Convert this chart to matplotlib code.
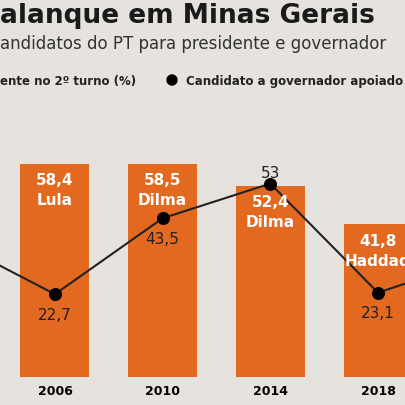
import matplotlib
matplotlib.use("Agg")
import matplotlib.pyplot as plt

years = ["2006", "2010", "2014", "2018"]
pres_vals = [58.4, 58.5, 52.4, 41.8]
pres_labels = ["58,4", "58,5", "52,4", "41,8"]
pres_names = ["Lula", "Dilma", "Dilma", "Haddad"]
gov_x = [-1, 0, 1, 2, 3, 4]
gov_vals = [38, 22.7, 43.5, 53, 23.1, 33]
gov_labels = ["22,7", "43,5", "53", "23,1"]

bg = "#e6e3de"
orange = "#e2691f"
fig = plt.figure(figsize=(4.06, 4.06), dpi=100, facecolor=bg)
ax = fig.add_axes([0, 28/406, 1, (378-120)/406])
ax.set_facecolor(bg)
ax.set_xlim(-0.51, 3.26)
ax.set_ylim(0, 70.7)
ax.axis("off")
xs = list(range(len(years)))
ax.bar(xs, pres_vals, width=0.64, color=orange, zorder=1)
ax.plot(gov_x, gov_vals, color="#222222", lw=1.5, zorder=3)
ax.scatter(gov_x[1:5], gov_vals[1:5], s=70, color="black", zorder=4)
for x, v, l, n in zip(xs, pres_vals, pres_labels, pres_names):
    ax.text(x, v - 5.5, l, ha="center", color="white", fontsize=11, fontweight="bold", zorder=5)
    ax.text(x, v - 11, n, ha="center", color="white", fontsize=11, fontweight="bold", zorder=5)
offs = [-5.5, -5.5, 3, -5.5]
for x, v, l, o in zip(xs, gov_vals[1:5], gov_labels, offs):
    ax.text(x, v + o, l, ha="center", va="center", color="#222222", fontsize=11, zorder=5)
for x, y in zip(xs, years):
    fig.text((55 + x*107.7)/406, 14/406, y, ha="center", va="center", fontsize=9, fontweight="bold")

fig.text(0.0, 1-16/406, "alanque em Minas Gerais", fontsize=19, fontweight="bold", va="center", color="#1a1a1a")
fig.text(0.0, 1-44/406, "andidatos do PT para presidente e governador", fontsize=12, va="center", color="#333333")
fig.text(0.0, 1-81/406, "ente no 2º turno (%)", fontsize=8.5, fontweight="bold", va="center", color="#222222")
fig.patches.append(plt.Circle((172/406, 1-81/406), 5/406, color="black", transform=fig.transFigure))
fig.text(186/406, 1-81/406, "Candidato a governador apoiado", fontsize=8.5, fontweight="bold", va="center", color="#222222")
fig.savefig("out.png", dpi=100, facecolor=bg)
